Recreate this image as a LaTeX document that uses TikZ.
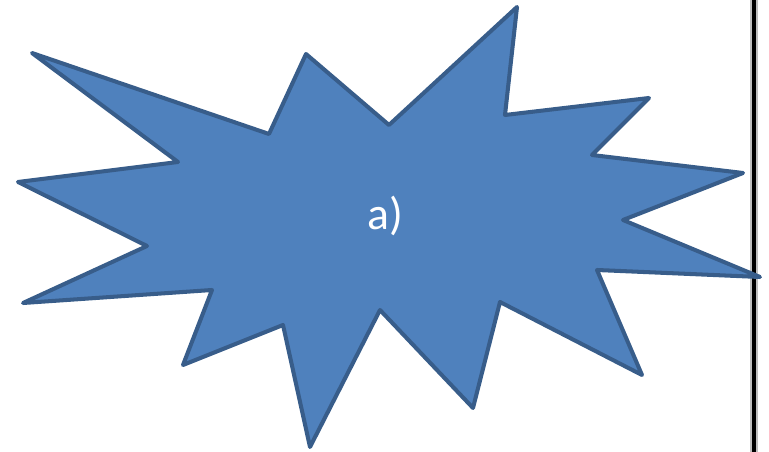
\documentclass[tikz,border=0pt]{standalone}
\usepackage{fontspec}
\setmainfont{Carlito}
\definecolor{burstfill}{HTML}{4F81BD}
\definecolor{burstline}{HTML}{385D8A}
\begin{document}
\begin{tikzpicture}[x=0.02cm, y=-0.02cm, line join=round, line cap=round]
	\useasboundingbox (0,0) rectangle (769,452);
	% right border
	\draw[black!25, line width=4pt, line cap=butt] (754,0)--(754,452);
	\draw[black, line width=2.3pt, line cap=butt] (754,0)--(754,452);
	% explosion shape
	\filldraw[fill=burstfill, draw=burstline, line width=2.3pt]
	(18,182)--(178,162)--(32,53)--(269,134)--(306,54)--(389,125)--(517,7)
	--(505,115)--(649,98)--(592,155)--(743,173)--(623,220)--(760,277)
	--(597,270)--(642,375)--(500,302)--(473,408)--(380,310)--(310,447)
	--(283,325)--(183,365)--(212,290)--(23,303)--(147,246)--cycle;
	\node[text=white, font=\fontsize{26}{30}\selectfont] (lbl) at (385,216) {a)};
\end{tikzpicture}
\end{document}
